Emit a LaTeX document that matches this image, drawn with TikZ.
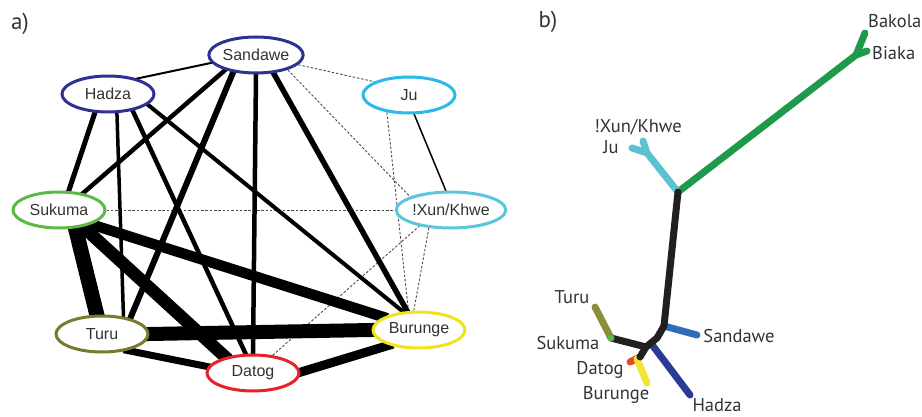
\documentclass[tikz,border=0pt]{standalone}
\usepackage{fontspec}
\setmainfont{Liberation Sans}
\newfontfamily\bfont{PT Sans}
\usetikzlibrary{shapes.geometric,backgrounds}
\definecolor{cSand}{HTML}{2E3192}
\definecolor{cJu}{HTML}{2BB8EA}
\definecolor{cXun}{HTML}{5CC5DC}
\definecolor{cSuk}{HTML}{5DB946}
\definecolor{cTuru}{HTML}{7A7A2E}
\definecolor{cBur}{HTML}{F2E21A}
\definecolor{cDat}{HTML}{E8202A}
\definecolor{txt}{HTML}{333333}
\definecolor{tGreen}{HTML}{1E9A4A}
\definecolor{tCyan}{HTML}{5BC3CF}
\definecolor{tBlack}{HTML}{231F20}
\definecolor{tSand}{HTML}{2F6DB8}
\definecolor{tHadza}{HTML}{2A3A96}
\definecolor{tOlive}{HTML}{8E8E3A}
\definecolor{tRed}{HTML}{E8452A}
\definecolor{tYel}{HTML}{F2E632}
\tikzset{
  pop/.style={ellipse,draw,line width=3pt,fill=white,minimum width=92pt,minimum height=36pt,inner sep=0pt,text=txt,font=\fontsize{16}{16}\selectfont},
  lnk/.style={black,line cap=butt,shorten <=-4pt,shorten >=-4pt},
  weak/.style={draw=black!70,line width=0.9pt,dash pattern=on 2.5pt off 1.8pt},
  br/.style={line width=7pt,line cap=round,line join=round},
  tlab/.style={text=txt,font=\bfont\fontsize{18.5}{18.5}\selectfont,inner sep=0pt},
  plab/.style={text=txt,font=\bfont\fontsize{23}{23}\selectfont,inner sep=0pt}
}
\begin{document}
\begin{tikzpicture}[x=1pt,y=-1pt]
\useasboundingbox (0,0) rectangle (922,417);
\node[plab] (la) at (20,24) {a)};
\node[plab] (lb) at (548,22) {b)};
% panel a nodes
\node[pop,draw=cSand] (sand) at (256,55) {Sandawe};
\node[pop,draw=cSand] (hadza) at (108,94) {Hadza};
\node[pop,draw=cJu] (ju) at (409,95) {Ju};
\node[pop,draw=cSuk] (suk) at (59,210) {Sukuma};
\node[pop,draw=cXun] (xun) at (451,210) {!Xun/Khwe};
\node[pop,draw=cTuru] (turu) at (102,334) {Turu};
\node[pop,draw=cBur] (bur) at (419,330) {Burunge};
\node[pop,draw=cDat] (dat) at (253,373) {Datog};
\begin{pgfonlayer}{background}
\draw[weak] (sand.-13) -- (ju.159);
\draw[weak] (sand.-25) -- (xun.162);
\draw[weak] (suk.east) -- (xun.west);
\draw[weak] (ju.218) -- (bur.119);
\draw[weak] (dat.42) -- (xun.207);
\draw[weak] (bur.105) -- (xun.219);
\draw[lnk,line width=2pt] (hadza.28) -- (sand.190);
\draw[lnk,line width=1.5pt] (ju.-75) -- (xun.105);
\draw[lnk,line width=4.5pt] (sand.206) -- (suk.35);
\draw[lnk,line width=6pt] (sand.217) -- (turu.29);
\draw[lnk,line width=4.5pt] (sand.south) -- (dat.north);
\draw[lnk,line width=5.5pt] (sand.-46) -- (bur.122);
\draw[lnk,line width=5pt] (hadza.235) -- (suk.63);
\draw[lnk,line width=3.5pt] (hadza.-65) -- (turu.39);
\draw[lnk,line width=4.5pt] (hadza.-34) -- (dat.111);
\draw[lnk,line width=4pt] (hadza.-15) -- (bur.131);
\draw[lnk,line width=15pt] (suk.-48) -- (turu.105);
\draw[lnk,line width=12.5pt] (suk.-35) -- (dat.150);
\draw[lnk,line width=10.5pt] (suk.-24) -- (bur.160);
\draw[lnk,line width=14pt] (turu.east) -- (bur.west);
\draw[lnk,line width=7pt] (turu.-33) -- (dat.172);
\draw[lnk,line width=9pt] (dat.1) -- (bur.207);
\end{pgfonlayer}
% panel b tree
\coordinate (root) at (678,192);
\coordinate (gfork) at (856,55);
\coordinate (bakola) at (865,33);
\coordinate (biaka) at (867,51);
\coordinate (cfork) at (647,153);
\coordinate (jut) at (632,148);
\coordinate (xunt) at (643,141);
\coordinate (t1) at (664,326);
\coordinate (t2) at (657,338);
\coordinate (t3) at (646,347);
\coordinate (sandt) at (697,335);
\coordinate (hadzat0) at (653,346);
\coordinate (hadzat) at (690,395);
\coordinate (sukt) at (611,338);
\coordinate (turut) at (595,307);
\coordinate (db) at (640,357);
\coordinate (datt) at (630,362);
\coordinate (burt) at (647,383);
\coordinate (burs) at (637,359);
\draw[br,tGreen] (root) -- (gfork) -- (bakola);
\draw[br,tGreen] (gfork) -- (biaka);
\draw[br,tCyan] (root) -- (cfork) -- (jut);
\draw[br,tCyan] (cfork) -- (xunt);
\draw[br,tSand] (t1) -- (sandt);
\draw[br,tHadza] (hadzat0) -- (hadzat);
\draw[br,tOlive] (sukt) -- (turut);
\draw[br,tRed] (db) -- (datt);
\draw[br,tYel] (burs) -- (burt);
\draw[br,tBlack] (root) -- (t1) -- (t2) -- (t3) -- (sukt);
\draw[br,tBlack] (t3) -- (db);
\fill[cSuk] (sukt) circle (3.5pt);
\node[tlab,anchor=west] (lbak) at (868,21) {Bakola};
\node[tlab,anchor=west] (lbia) at (872,53) {Biaka};
\node[tlab] (lxun) at (638,127) {!Xun/Khwe};
\node[tlab] (lju) at (611,147) {Ju};
\node[tlab] (ltur) at (572,297) {Turu};
\node[tlab] (lsuk) at (568,343) {Sukuma};
\node[tlab] (ldat) at (600,370) {Datog};
\node[tlab] (lbur) at (616,395) {Burunge};
\node[tlab] (lsan) at (739,336) {Sandawe};
\node[tlab] (lhad) at (717,405) {Hadza};
\end{tikzpicture}
\end{document}
